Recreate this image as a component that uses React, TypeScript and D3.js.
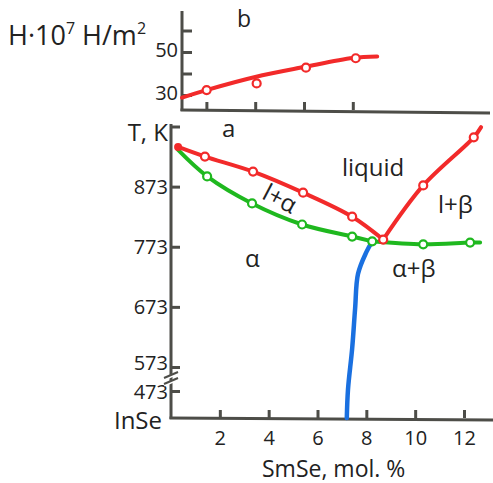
import { useEffect, useRef } from "react";
import * as d3 from "d3";

// panel a: phase diagram InSe - SmSe
const xTicks = [2, 4, 6, 8, 10, 12];
const tTicks = [973, 873, 773, 673, 573, 473];

const liqLeftX = [0.29, 1.39, 3.36, 5.41, 7.42, 8.69];
const liqLeftT = [939, 923, 898, 863, 823, 785];
const liqRightX = [8.69, 10.33, 12.4, 12.7];
const liqRightT = [785, 875, 955, 972];

const solLeftX = [0.29, 1.48, 3.32, 5.37, 7.42, 8.24];
const solLeftT = [934, 890, 845, 810, 790, 782];
const solRightX = [8.24, 10.33, 12.25, 12.66];
const solRightT = [782, 777, 780, 780];

const solvusX = [8.24, 8.0, 7.66, 7.54, 7.42, 7.25, 7.2];
const solvusT = [782, 764, 728, 670, 604, 481, 373];

// panel b: microhardness
const hTicks = [30, 40, 50, 60];
const hXTicks = [1, 3, 5, 7];
const hCurveX = [0, 1, 3, 5, 7, 8];
const hCurveV = [28.8, 32.3, 38.4, 43, 47.2, 47.9];
const hPointX = [1.01, 3.06, 5.08, 7.12];
const hPointV = [32.3, 35.4, 42.7, 47.1];

const RED = "#f22a2a";
const GREEN = "#1fb81f";
const BLUE = "#1a70e0";
const AXIS = "#4d4d48";
const FONT = "'Open Sans', sans-serif";

const zip = (xs: number[], ys: number[]) => xs.map((v, i) => [v, ys[i]] as [number, number]);

const App = () => {
  const svgRef = useRef<SVGSVGElement>(null);

  useEffect(() => {
    const svg = d3.select(svgRef.current);
    svg.selectAll("*").remove();

    svg.append("rect").attr("width", 493).attr("height", 483).attr("fill", "#fff");

    // ---------- panel a ----------
    const x = d3.scaleLinear().domain([0, 12]).range([171, 464]);
    const y = d3.scaleLinear().domain([373, 473, 573, 973]).range([418, 391, 367, 126.5]);

    const styleAxis = (g: any, size: number) => {
      g.select(".domain").remove();
      g.selectAll(".tick line").attr("stroke", AXIS).attr("stroke-width", 3);
      g.selectAll(".tick text")
        .attr("fill", "#222")
        .style("font-family", FONT)
        .style("font-size", `${size}px`);
    };

    const xAxis = svg
      .append("g")
      .attr("transform", "translate(0,418)")
      .call(
        d3.axisBottom(x)
          .tickValues(xTicks)
          .tickSize(-8)
          .tickSizeOuter(0)
          .tickPadding(13)
          .tickFormat((d: any) => String(d))
      );
    styleAxis(xAxis, 20);

    const yAxis = svg
      .append("g")
      .attr("transform", "translate(171,0)")
      .call(
        d3.axisLeft(y)
          .tickValues(tTicks)
          .tickSize(-9)
          .tickSizeOuter(0)
          .tickPadding(3)
          .tickFormat((d: any) => (d === 973 ? "" : String(d)))
      );
    styleAxis(yAxis, 20);
    // 573 and 473 sit close together across the break
    yAxis.selectAll(".tick text")
      .filter((d: any) => d === 573)
      .attr("dy", "0.1em");
    yAxis.selectAll(".tick text")
      .filter((d: any) => d === 473)
      .attr("dy", "0.36em");

    svg.append("line").attr("x1", 171).attr("y1", 124).attr("x2", 171).attr("y2", 419)
      .attr("stroke", AXIS).attr("stroke-width", 3);
    svg.append("line").attr("x1", 169.5).attr("y1", 418).attr("x2", 493).attr("y2", 420)
      .attr("stroke", AXIS).attr("stroke-width", 3);

    // axis break
    [0, 6].forEach((o) => {
      svg.append("line")
        .attr("x1", 164).attr("y1", 379 + o).attr("x2", 178).attr("y2", 373 + o)
        .attr("stroke", "#fff").attr("stroke-width", 3);
      svg.append("line")
        .attr("x1", 164).attr("y1", 378 + o).attr("x2", 178).attr("y2", 372 + o)
        .attr("stroke", AXIS).attr("stroke-width", 2);
    });

    const line = d3.line<[number, number]>()
      .x((d) => x(d[0]))
      .y((d) => y(d[1]))
      .curve(d3.curveCatmullRom.alpha(0.5));

    const curves = [
      { pts: zip(solLeftX, solLeftT), color: GREEN, w: 4 },
      { pts: zip(solRightX, solRightT), color: GREEN, w: 4 },
      { pts: zip(solvusX, solvusT), color: BLUE, w: 4.5 },
      { pts: zip(liqLeftX, liqLeftT), color: RED, w: 4 },
      { pts: zip(liqRightX, liqRightT), color: RED, w: 4 },
    ];
    curves.forEach((c) => {
      svg.append("path").datum(c.pts).attr("d", line)
        .attr("fill", "none").attr("stroke", c.color)
        .attr("stroke-width", c.w).attr("stroke-linecap", "round");
    });

    const markers = [
      { pts: zip(solLeftX, solLeftT).slice(1), color: GREEN },
      { pts: zip(solRightX, solRightT).slice(1, -1), color: GREEN },
      { pts: zip(liqLeftX, liqLeftT).slice(1), color: RED },
      { pts: zip(liqRightX, liqRightT).slice(1, -1), color: RED },
    ];
    markers.forEach((m) => {
      svg.append("g").selectAll("circle").data(m.pts).enter().append("circle")
        .attr("cx", (d) => x(d[0])).attr("cy", (d) => y(d[1])).attr("r", 4)
        .attr("fill", "#fff").attr("stroke", m.color).attr("stroke-width", 2.2);
    });
    svg.append("circle").attr("cx", x(liqLeftX[0])).attr("cy", y(liqLeftT[0]))
      .attr("r", 4).attr("fill", RED);

    const text = (s: string, px: number, py: number, size: number, anchor = "start") =>
      svg.append("text").attr("x", px).attr("y", py).attr("text-anchor", anchor)
        .attr("fill", "#222").style("font-family", FONT).style("font-size", `${size}px`).text(s);

    text("T, K", 168, 141, 24, "end");
    text("InSe", 162, 429, 24, "end");
    text("SmSe, mol. %", 262, 477, 23);
    text("a", 222, 137, 24);
    text("liquid", 342, 176, 24);
    text("l+β", 438, 213, 24);
    text("α+β", 392, 277, 24);
    text("α", 245, 267, 24);
    text("l+α", 0, 0, 24, "middle")
      .attr("x", null).attr("y", null)
      .attr("transform", "translate(276,206) rotate(28)");

    // ---------- panel b ----------
    const xb = d3.scaleLinear().domain([0, 12.5]).range([182, 487]);
    const yb = d3.scaleLinear().domain([30, 50]).range([95, 52]);

    const xbAxis = svg.append("g").attr("transform", "translate(0,110)")
      .call(d3.axisBottom(xb).tickValues(hXTicks).tickSize(-8).tickSizeOuter(0).tickFormat(() => ""));
    styleAxis(xbAxis, 20);
    const ybAxis = svg.append("g").attr("transform", "translate(182,0)")
      .call(
        d3.axisLeft(yb).tickValues(hTicks).tickSize(-10).tickSizeOuter(0).tickPadding(4)
          .tickFormat((d: any) => (d === 30 || d === 50 ? String(d) : ""))
      );
    styleAxis(ybAxis, 20);
    ybAxis.selectAll(".tick text").attr("dy", "0.2em");

    svg.append("line").attr("x1", 182).attr("y1", 11).attr("x2", 182).attr("y2", 111)
      .attr("stroke", AXIS).attr("stroke-width", 3);
    svg.append("line").attr("x1", 180.5).attr("y1", 110).attr("x2", 490).attr("y2", 113)
      .attr("stroke", AXIS).attr("stroke-width", 3);

    const lineB = d3.line<[number, number]>()
      .x((d) => xb(d[0]))
      .y((d) => yb(d[1]))
      .curve(d3.curveCatmullRom.alpha(0.5));
    svg.append("path").datum(zip(hCurveX, hCurveV)).attr("d", lineB)
      .attr("fill", "none").attr("stroke", RED).attr("stroke-width", 4).attr("stroke-linecap", "round");
    svg.append("g").selectAll("circle").data(zip(hPointX, hPointV)).enter().append("circle")
      .attr("cx", (d) => xb(d[0])).attr("cy", (d) => yb(d[1])).attr("r", 4)
      .attr("fill", "#fff").attr("stroke", RED).attr("stroke-width", 2.2);

    text("b", 237, 27, 23);
    const h = svg.append("text").attr("x", 8).attr("y", 45).attr("fill", "#222")
      .style("font-family", FONT).style("font-size", "27px");
    h.append("tspan").text("H·10");
    h.append("tspan").attr("dy", -11).style("font-size", "16px").text("7");
    h.append("tspan").attr("dy", 11).text(" H/m");
    h.append("tspan").attr("dy", -11).style("font-size", "16px").text("2");
  }, []);

  return (
    <div style={{ position: "absolute", left: 0, top: 0 }}>
      <svg ref={svgRef} width={493} height={483} style={{ display: "block" }}></svg>
    </div>
  );
};

export default App;
